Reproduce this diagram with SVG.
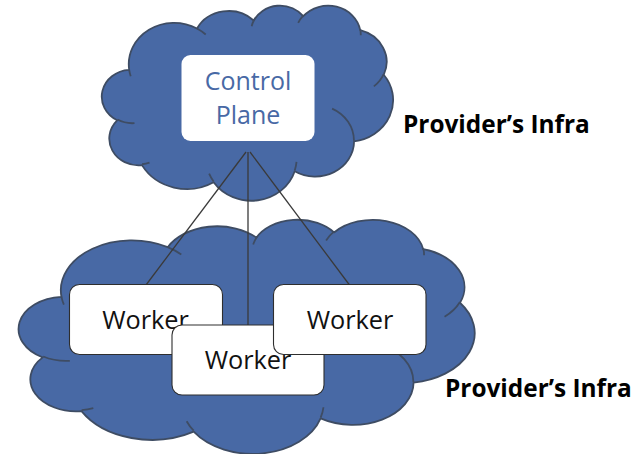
<svg xmlns="http://www.w3.org/2000/svg" width="641" height="454" viewBox="0 0 641 454">
  <style>
    .cloud-fill { fill: #4869A5; stroke: #3E4C63; stroke-width: 1.8; stroke-linejoin: round; }
    .cloud-crease { fill: none; stroke: #3E4C63; stroke-width: 1.8; stroke-linecap: butt; }
    .box { fill: #FFFFFF; }
    .worker-box { fill: #FFFFFF; stroke: #2E2E2E; stroke-width: 1.1; }
    .link { stroke: #3A3A3A; stroke-width: 1.3; fill: none; }
    .cp-text { font-family: "Open Sans", "Noto Sans", sans-serif; font-size: 25px; fill: #4869A5; text-anchor: middle; }
    .worker-text { font-family: "Open Sans", "Noto Sans", sans-serif; font-size: 25.3px; fill: #111111; text-anchor: middle; }
    .label { font-family: "Open Sans", "Noto Sans", sans-serif; font-size: 24.4px; font-weight: bold; fill: #000000; }
  </style>
  <defs>
    <!-- Cloud outline on a 43200 x 43200 unit grid -->
    <path id="cloud-outline" vector-effect="non-scaling-stroke" d="M3900,14370 A6753,9190 0 0 1 14005,5203 A5333,7267 0 0 1 22457,3432 A4365,5945 0 0 1 29834,2480 A4857,6595 0 0 1 38319,5577 A5333,7273 0 0 1 41819,15460 A6775,9220 0 0 1 37405,30202 A5785,7867 0 0 1 28556,36812 A6752,9215 0 0 1 16481,39263 A7720,10543 0 0 1 5804,35469 A4360,5918 0 0 1 2112,25547 A4345,5945 0 0 1 3900,14370 Z"/>
    <!-- Interior creases between the puffs -->
    <path id="cloud-creases" vector-effect="non-scaling-stroke" d="M4693,26177 A4345,5945 0 0 1 2160,25380 M6928,34899 A4360,5918 0 0 1 5819,35281 M16478,39090 A6752,9215 0 0 1 15810,37350 M28827,34751 A6752,9215 0 0 1 28560,36661 M34129,22954 A5785,7867 0 0 1 37381,30090 M41798,15354 A5333,7273 0 0 1 40349,18031 M38324,5426 A4857,6595 0 0 1 38400,6690 M29078,3952 A4857,6595 0 0 1 29821,2338 M22141,4720 A4365,5945 0 0 1 22500,3331 M14000,5192 A6753,9190 0 0 1 15300,6540 M4127,15789 A6753,9190 0 0 1 3900,14370"/>
  </defs>

  <!-- Provider cloud hosting the control plane -->
  <g id="cloud-top" transform="translate(103,5) scale(0.0067130,0.0045139)">
    <use href="#cloud-outline" class="cloud-fill"/>
    <use href="#cloud-creases" class="cloud-crease"/>
  </g>

  <!-- Provider cloud hosting the workers -->
  <g id="cloud-bottom" transform="translate(20.5,219) scale(0.0105093,0.0054167)">
    <use href="#cloud-outline" class="cloud-fill"/>
    <use href="#cloud-creases" class="cloud-crease"/>
  </g>

  <g id="control-plane">
    <rect class="box" x="181.5" y="55" width="133" height="86" rx="9"/>
    <text class="cp-text" x="248" y="90">Control</text>
    <text class="cp-text" x="248" y="124">Plane</text>
  </g>

  <g id="connectors">
    <line class="link" x1="246" y1="152" x2="146" y2="285"/>
    <line class="link" x1="248" y1="152" x2="248" y2="325"/>
    <line class="link" x1="250" y1="152" x2="349.5" y2="285"/>
  </g>

  <g id="worker-left">
    <rect class="worker-box" x="69.5" y="284.5" width="153" height="70" rx="10"/>
    <text class="worker-text" x="145.5" y="328.5">Worker</text>
  </g>

  <g id="worker-middle">
    <rect class="worker-box" x="172" y="325" width="152" height="70" rx="10"/>
    <text class="worker-text" x="248" y="369">Worker</text>
  </g>

  <g id="worker-right">
    <rect class="worker-box" x="273.5" y="284.5" width="152.5" height="70" rx="10"/>
    <text class="worker-text" x="350" y="328.5">Worker</text>
  </g>

  <g id="label-top">
    <text class="label" x="403" y="133">Provider’s Infra</text>
  </g>

  <g id="label-bottom">
    <text class="label" x="445" y="397">Provider’s Infra</text>
  </g>
</svg>
